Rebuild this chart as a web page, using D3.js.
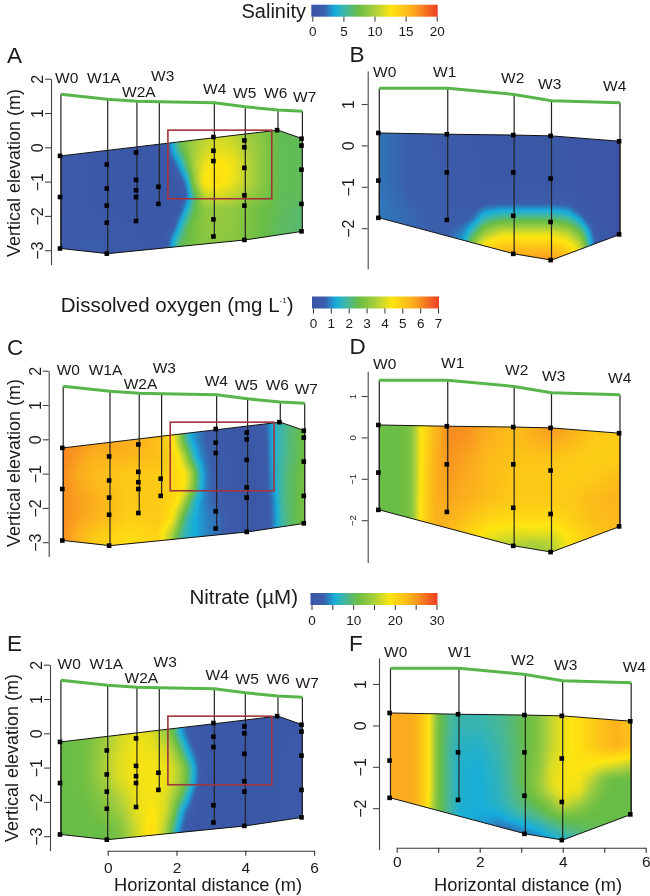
<!DOCTYPE html>
<html><head><meta charset="utf-8">
<script src="https://cdn.jsdelivr.net/npm/d3@7"></script>
<style>
html,body{margin:0;padding:0;background:#fff;overflow:hidden}
#wrap{position:relative;width:650px;height:896px}
canvas,svg{position:absolute;left:0;top:0}
text{font-family:"Liberation Sans",Arial,sans-serif;fill:#1a1a1a}
</style></head><body><div id="wrap"><canvas id="c" width="650" height="896"></canvas><svg id="s" width="650" height="896"></svg></div>
<script>
// ---------- colour key ----------
const keyStops=[0,.1,.19,.28,.37,.5,.63,.8,1];
const keyColors=["#3b53a4","#3b5eab","#16aedc","#47b79a","#69bd45","#a9cf3c","#ffe510","#fbac1e","#ee3d24"];

// ---------- transect 1 (panels A, C, E) ----------
const wellNames1=["W0","W1A","W2A","W3","W4","W5","W6","W7"];
const wellX1=[-1.36,0,0.85,1.5,3.1,4,4.95,5.66];
const surface1=[1.55,1.4,1.34,1.33,1.3,1.18,1.09,1.05];
const sensors1=[[-0.25,-1.45,-2.95],[-0.5,-1.2,-1.7,-2.2,-3.1],[-0.15,-0.95,-1.25,-1.45,-2.15],[-1.15,-1.65],[0.3,-0.1,-0.4,-2.1,-2.6],[0.2,0,-0.6,-1.4,-1.7,-2.7],[0.5],[0.25,0.05,-0.65,-1.65,-2.45]];
const topX1=[-1.36,4.95,5.66], topZ1=[-0.25,0.5,0.25];
const botX1=[5.66,4,0,-1.36], botZ1=[-2.45,-2.7,-3.1,-2.95];
const boxX=[1.75,4.77], boxZ=[0.5,-1.5];

// ---------- transect 2 (panels B, D, F) ----------
const wellNames2=["W0","W1","W2","W3","W4"];
const wellX2=[-0.15,1.5,3.1,4,5.65];
const surface2=[1.38,1.38,1.23,1.08,1.03];
const sensors2=[[0.3,-0.85,-1.75],[0.27,-0.65,-1.8],[0.25,-0.65,-1.7,-2.62],[0.23,-0.8,-1.85,-2.77],[0.1,-2.15]];
const topX2=[-0.15,1.5,3.1,4,5.65], topZ2=[0.3,0.27,0.25,0.23,0.1];
const botX2=[5.65,4,3.1,-0.15], botZ2=[-2.15,-2.77,-2.62,-1.75];

// ---------- measured fields ----------
const rows1=[0.5,0,-0.5,-1,-1.4,-1.8,-2.3,-2.8,-3.2];
const colsA=[-1.4,-.5,.5,1.4,1.7,1.9,2.1,2.3,2.5,2.8,3.2,3.6,4,4.5,5,5.7];
const salinityA=[
[1.2,1,.8,.8,1.2,4.5,7,8.5,9.5,10.5,11,10.5,9.5,8.5,7,7],
[1.2,1,.8,.8,1.2,4,7,8.5,9.8,10.8,11.6,11.4,10.2,8.8,7,7],
[1.2,1,.8,.8,.8,1.6,3.5,7,10,12,12.8,12.4,10.8,8.8,7,7],
[1.2,1,.8,.8,.8,.8,1.3,3,9,12.8,13.2,12.2,10.8,8.8,7,7],
[1.2,1,.8,.8,.8,.8,1,1.8,6,11,11.5,11,9.8,8.2,7,7],
[1.2,1,.8,.8,.8,.8,1.3,4,7,8.8,9.2,9,8.5,7.5,7,6.5],
[1.2,1.3,1.1,.8,.8,1.3,4,7,8,8.8,9.2,9,8.3,7.5,6.8,6.5],
[1.2,1.8,1.3,.8,1.3,4,7,7.5,8,8.5,8.8,8.8,8.2,7.2,6.8,6.5],
[1.2,1.8,1.3,.8,1.3,4,7,7.5,8,8.5,8.8,8.8,8.2,7.2,6.8,6.5]];
const colsC=[-1.4,-.5,.5,1.4,1.8,2,2.2,2.4,2.6,2.8,3.2,3.6,4,4.5,4.75,5,5.3,5.7];
const oxygenC=[
[6.1,5.9,5.6,5.2,4.6,3.5,1.8,1.2,.9,.7,.5,.4,.4,.7,1.4,1.9,2.3,2.7],
[6.1,5.8,5.6,5.2,4.6,3.5,1.9,1.2,.9,.7,.4,.3,.3,.5,1.4,1.9,2.3,2.7],
[6.1,5.5,5.4,5.2,4.8,4.4,3.4,1.8,1.1,.8,.5,.3,.3,.4,1.4,1.9,2.3,2.7],
[6,5.3,5,5,4.8,4.6,4.4,3.4,1.7,.9,.5,.3,.3,.4,1.3,2,2.4,2.8],
[6,5.4,5,5,4.8,4.6,4.3,3.2,1.6,.9,.5,.3,.3,.4,1.2,2,2.4,2.8],
[6,5.6,5,5,4.7,4.4,3.3,1.8,1.2,.9,.6,.4,.3,.4,.9,2,2.4,2.8],
[6,5.5,4.9,5,4.5,3.3,1.9,1.4,1.2,1,.8,.4,.3,.4,.9,1.9,2.4,2.8],
[6,5,4.6,4.8,3.5,2.2,1.6,1.4,1.2,1,.8,.4,.3,.4,.9,1.8,2.4,2.8],
[6,5,4.6,4.8,3.5,2.2,1.6,1.4,1.2,1,.8,.4,.3,.4,.9,1.8,2.4,2.8]];
const colsE=[-1.4,-.7,-.2,.3,.8,1.3,1.7,1.9,2.1,2.3,2.5,2.7,3,4,5,5.7];
const nitrateE=[
[11,11,12.5,15,17.5,17,14,11,6,3,1.5,1.5,1.2,1.2,1.5,1.5],
[11,11.5,13.5,16.5,18,17.5,14,11,6,3,1.5,1.5,1.2,1.2,1.5,1.5],
[11,11.5,14,17,18.5,18,17,15,11,6,3,1.5,1.2,1.2,1.5,1.5],
[11,11.5,14.5,17.5,18.5,18.5,18,17,15,11,6,2.2,1.2,1.2,1.5,1.8],
[11,11.5,14,17,18.5,18.5,18,16.5,15,11,5.5,2.2,1.2,1.2,1.5,1.8],
[11,11.3,13,15.5,18,18.5,17.5,15,12,7,3,1.7,1.2,1.2,1.5,1.8],
[11,11,12,14,17.5,19,17,13,6.5,3,1.7,1.2,1.2,1.2,1.5,1.8],
[11,11,11,12,16.5,20,15,9,4,2.2,1.5,1.2,1.2,1.2,1.5,1.8],
[11,11,11,12,16.5,20,15,9,4,2.2,1.5,1.2,1.2,1.2,1.5,1.8]];

const colsB=[-.2,.6,1.5,1.9,2.1,2.4,2.8,3.2,4,4.4,4.7,4.9,5.1,5.7];
const rowsB=[.5,-1,-1.4,-1.6,-1.8,-2.1,-2.4,-2.7,-3];
const salinityB=[
[2.5,2,1.3,1,1,.8,.8,.8,.8,.7,.6,.5,.5,.5],
[2.5,2,1.5,1.3,1.2,1,1,1,1,.8,.7,.6,.5,.5],
[2.6,2.1,1.6,1.4,1.3,1.6,1.8,1.8,1.8,1.6,.9,.7,.6,.5],
[2.6,2.2,1.7,1.6,1.7,3.4,4.2,4.2,4.2,3.6,1.5,.8,.6,.5],
[2.6,2.2,1.8,1.8,2.4,5.5,6.8,7,7,6,3.5,1.2,.7,.5],
[2.6,2.2,1.9,3,5.5,9.5,11.5,11.5,11.5,10.5,7.5,3.5,1,.5],
[2.6,2.2,2,4,9.5,13,14.2,14.2,14.2,13,11,5,1,.5],
[2.6,2.2,2,5,10,14,16,16.5,16.5,15,12,6,1,.5],
[2.6,2.2,2,5,10,14,16,16.5,16.5,15,12,6,1,.5]];
const colsD=[-.2,.3,.6,.85,1,1.2,1.5,2,2.5,3.1,3.6,4,4.4,5,5.7];
const rowsD=[.5,0,-.5,-1,-1.5,-2,-2.3,-2.6,-3];
const oxygenD=[
[2.6,2.6,2.8,4.4,4.8,5.4,6,6,5.6,5.3,5.7,6,5.8,5.2,4.9],
[2.6,2.6,2.8,4.4,4.8,5.4,6,5.9,5.5,5.2,5.5,5.7,5.5,5,4.9],
[2.6,2.6,2.8,4.4,4.9,5.5,5.9,5.7,5.3,5.1,5.1,5.1,5,4.9,4.9],
[2.6,2.6,2.8,4.4,5,5.5,5.8,5.6,5.3,5,5,5,4.9,5,5.3],
[2.6,2.6,2.8,4.5,5,5.5,5.7,5.5,5.2,5,5,5,5,5.3,5.5],
[2.6,2.6,2.8,4.5,5,5.5,5.5,5.1,4.7,4.6,4.6,4.6,4.8,5.2,5.4],
[2.6,2.6,2.8,4.5,5,5.5,5.3,4.8,4.3,4.1,4.2,4.1,4.5,5,5.3],
[2.6,2.6,2.8,4.5,5,5.5,5.2,4.6,3.9,3.6,3.4,3.6,4.4,5,5.3],
[2.6,2.6,2.8,4.5,5,5.5,5.2,4.6,3.9,3.6,3.4,3.6,4.4,5,5.3]];
const colsF=[-.2,.4,.7,.85,1,1.3,1.5,2,2.5,3,3.4,3.7,4,4.4,4.7,5,5.3,5.7];
const rowsF=[.5,0,-.5,-1,-1.3,-1.6,-1.9,-2.2,-2.5,-2.8];
const nitrateF=[
[24,24,21,17,11.5,8.5,7.8,7.8,8.5,10.5,12.5,16,18,19.5,20.5,21.5,22.5,20.5],
[24,24,20.5,17,11.5,8.5,7.5,7.5,8.5,10.5,12.5,16,18,19.5,21,22.5,23.5,21.5],
[24,24,20.5,17,11.5,8,6.8,6.5,8,10.5,12.5,16,18,19.5,21,22.5,23.5,22],
[24,24,20.5,17,11.5,8,6.3,5.9,7.5,10.5,13,17,18.5,19,18.5,17.5,16.5,15],
[24,24,20.5,17,11.5,8,6.3,5.8,7.3,10.5,13.5,17.5,18.5,18.5,16,12,11,11],
[24,24,20.5,17,11.5,8,6.3,5.8,7.2,10,13,16.5,18.5,18,14,11.5,11,11],
[24,24,20.5,16,11.5,8,6.3,5.8,6.8,9.5,11,13,17,14.5,12,11,11,11],
[24,24,20.5,16,11.5,8,6,5.5,5.5,7.5,9,10.5,11.5,11.5,11,11,11,11],
[24,24,20.5,16,11.5,8,6,4.5,3.2,4.5,6,7.5,9,10,10.5,11,11,11],
[24,24,20.5,16,11.5,8,6,4.5,2.2,2.5,3.5,5,6,8,10,11,11,11]];

// ---------- legends ----------
const legendTicksSal=[0,5,10,15,20], legendTicksDO=[0,1,2,3,4,5,6,7], legendTicksNO3=[0,5,10,15,20,25,30];

const svg=d3.select("#s"), ctx=document.getElementById("c").getContext("2d");
const colorT=d3.scaleLinear().domain(keyStops).range(keyColors).clamp(true);
const grad=svg.append("defs").append("linearGradient").attr("id","key");
keyStops.forEach((s,i)=>grad.append("stop").attr("offset",s).attr("stop-color",keyColors[i]));

function legend(o){
  const x=d3.scaleLinear().domain([0,o.max]).range([o.x0,o.x1]);
  svg.append("rect").attr("x",o.x0-1).attr("y",o.y).attr("width",o.x1-o.x0+2).attr("height",12).attr("fill","url(#key)");
  const a=svg.append("g").attr("transform",`translate(0,${o.y+12})`)
    .call(d3.axisBottom(x).tickValues(o.ticks).tickSize(5).tickSizeOuter(0).tickPadding(o.pad)
      .tickFormat(d=>o.labels.includes(d)?d:""));
  a.select(".domain").remove();
  a.selectAll("line").attr("stroke","#333");
  a.selectAll("text").attr("font-size",13.5).attr("font-family","Liberation Sans").attr("fill","#1a1a1a");
}
legend({x0:312.3,x1:436.7,y:4.7,max:20,ticks:legendTicksSal,labels:legendTicksSal,pad:5});
legend({x0:313,x1:438,y:296.5,max:7,ticks:legendTicksDO,labels:legendTicksDO,pad:5});
legend({x0:311.5,x1:436.5,y:593,max:30,ticks:legendTicksNO3,labels:[0,10,20,30],pad:5});
svg.append("text").attr("x",306).attr("y",18).attr("text-anchor","end").attr("font-size",20).text("Salinity");
const dot=svg.append("text").attr("x",293.5).attr("y",312).attr("text-anchor","end").attr("font-size",20.5);
dot.append("tspan").text("Dissolved oxygen (mg L");
dot.append("tspan").attr("font-size",8).attr("dy",-9).text("-1");
dot.append("tspan").attr("dy",9).text(")");
svg.append("text").attr("x",298).attr("y",604).attr("text-anchor","end").attr("font-size",20.5).text("Nitrate (µM)");

function valueAt(cols,rows,m,x,z){
  let i=Math.min(Math.max(d3.bisectLeft(cols,x),1),cols.length-1);
  const tx=Math.max(0,Math.min(1,(x-cols[i-1])/(cols[i]-cols[i-1])));
  let j=1; while(j<rows.length-1&&rows[j]>z)j++;
  const tz=Math.max(0,Math.min(1,(rows[j-1]-z)/(rows[j-1]-rows[j])));
  const a=m[j-1][i-1]*(1-tx)+m[j-1][i]*tx, b=m[j][i-1]*(1-tx)+m[j][i]*tx;
  return a*(1-tz)+b*tz;
}

function panel(p){
  const x=d3.scaleLinear().domain([0,6]).range([p.x0,p.x0+p.kx*6]);
  const y=d3.scaleLinear().domain([p.zTop,p.zBot]).range([p.yRef+(p.zRefV-p.zTop)*p.ky,p.yRef+(p.zRefV-p.zBot)*p.ky]);
  // field
  const poly=[...p.topX.map((v,i)=>[x(v),y(p.topZ[i])]),...p.botX.map((v,i)=>[x(v),y(p.botZ[i])])];
  const ext=[d3.extent(poly,d=>d[0]),d3.extent(poly,d=>d[1])];
  const L=Math.floor(ext[0][0])-4,T=Math.floor(ext[1][0])-4,W=Math.ceil(ext[0][1])-L+8,H=Math.ceil(ext[1][1])-T+8;
  const data=new Float64Array(W*H);
  for(let r=0;r<H;r++)for(let c=0;c<W;c++)data[r*W+c]=valueAt(p.cols,p.rows,p.field,x.invert(L+c+.5),y.invert(T+r+.5));
  if(d3.blur2)d3.blur2({data,width:W,height:H},1.6);
  const off=document.createElement("canvas");off.width=W;off.height=H;
  const oc=off.getContext("2d"),img=oc.createImageData(W,H);
  for(let k=0;k<W*H;k++){const col=d3.rgb(colorT(data[k]/p.max));img.data[4*k]=col.r;img.data[4*k+1]=col.g;img.data[4*k+2]=col.b;img.data[4*k+3]=255;}
  oc.putImageData(img,0,0);
  ctx.save();ctx.beginPath();poly.forEach((q,i)=>i?ctx.lineTo(q[0],q[1]):ctx.moveTo(q[0],q[1]));ctx.closePath();ctx.clip();ctx.drawImage(off,L,T);ctx.restore();
  const g=svg.append("g");
  g.append("path").attr("d","M"+poly.join("L")+"Z").attr("fill","none").attr("stroke","#111").attr("stroke-width",1);
  // wells
  p.wellX.forEach((wx,i)=>{
    const s=p.sensors[i];
    g.append("line").attr("x1",x(wx)).attr("x2",x(wx)).attr("y1",y(p.surface[i])).attr("y2",y(d3.min(s))).attr("stroke","#222").attr("stroke-width",1.2);
    g.selectAll(null).data(s).join("rect").attr("x",x(wx)-3.2).attr("y",d=>y(d)-2.3).attr("width",4.6).attr("height",4.6).attr("fill","#000");
  });
  // surface
  g.append("path").attr("d",d3.line().x(d=>x(d[0])).y(d=>y(d[1]))(p.wellX.map((v,i)=>[v,p.surface[i]])))
    .attr("fill","none").attr("stroke","#57b649").attr("stroke-width",3);
  if(p.box)g.append("rect").attr("x",x(boxX[0])).attr("y",y(boxZ[0])).attr("width",x(boxX[1])-x(boxX[0])).attr("height",y(boxZ[1])-y(boxZ[0])).attr("fill","none").attr("stroke","#a2343c").attr("stroke-width",1.6);
  // y axis
  const ya=g.append("g").attr("transform",`translate(${p.axisX},0)`)
    .call(d3.axisLeft(y).tickValues(p.yTicks).tickSize(6).tickSizeOuter(0).tickFormat(d3.format("d")));
  ya.selectAll("path,line").attr("stroke","#444").attr("stroke-width",1.1);
  ya.selectAll("text").attr("font-family","Liberation Sans").attr("fill","#1a1a1a").attr("font-size",p.tickFont)
    .attr("text-anchor","middle").attr("dy",0).attr("x",0).attr("y",0)
    .attr("transform",`translate(${p.tickTx-p.axisX},0) rotate(-90)`);
  if(p.yLabel)g.append("text").attr("transform",`translate(${p.yLabel[0]},${p.yLabel[1]}) rotate(-90)`).attr("text-anchor","middle").attr("font-size",18).text("Vertical elevation (m)");
  // x axis
  if(p.xAxis){
    const xa=g.append("g").attr("transform",`translate(0,${p.xAxis.y})`)
      .call(d3.axisBottom(x).tickValues(p.xAxis.ticks).tickSize(5).tickSizeOuter(0).tickPadding(p.xAxis.pad).tickFormat(d=>d%2===0?d:""));
    xa.selectAll("path,line").attr("stroke","#333").attr("stroke-width",1.1);
    xa.selectAll("text").attr("font-family","Liberation Sans").attr("fill","#1a1a1a").attr("font-size",15.5);
    g.append("text").attr("x",p.xAxis.tx).attr("y",p.xAxis.ty).attr("text-anchor","middle").attr("font-size",18.3).text("Horizontal distance (m)");
  }
  // well labels
  p.names.forEach((n,i)=>g.append("text").attr("x",p.lab[i][0]).attr("y",p.lab[i][1]).attr("font-size",15.5).text(n));
  g.append("text").attr("x",p.letter[0]).attr("y",p.letter[1]).attr("font-size",22.5).text(p.letter[2]);
}

const common1={names:wellNames1,wellX:wellX1,surface:surface1,sensors:sensors1,topX:topX1,topZ:topZ1,botX:botX1,botZ:botZ1,box:true,rows:rows1,yTicks:[2,1,0,-1,-2,-3],tickFont:16,kx:34.4,ky:34.3,zTop:2,zBot:-3.42,zRefV:2};
const common2={names:wellNames2,wellX:wellX2,surface:surface2,sensors:sensors2,topX:topX2,topZ:topZ2,botX:botX2,botZ:botZ2,kx:41.5,ky:41.4,yTicks:[1,0,-1,-2],tickFont:16,zRefV:1};
const lab1=[[55,83],[87,83],[122,96.7],[151,80.7],[203,94],[233,98],[264,98],[293,102]];
const shift=(a,dx,dy)=>a.map(d=>[d[0]+dx,d[1]+dy]);

panel({...common1,x0:107.7,yRef:78.7,axisX:51,tickTx:43,yLabel:[20,173],cols:colsA,field:salinityA,max:20,lab:lab1,letter:[7,62.5,"A"]});
panel({...common2,x0:385.5,yRef:104,zTop:1.8,zBot:-2.98,axisX:367.7,tickTx:354,cols:colsB,rows:rowsB,field:salinityB,max:20,
  lab:[[373,76.7],[433,76.7],[501,82.7],[538,89],[603,91.3]],letter:[349.5,61.7,"B"]});
panel({...common1,x0:110,yRef:370.7,axisX:48.7,tickTx:41,yLabel:[20,463],cols:colsC,field:oxygenC,max:7,lab:shift(lab1,1.7,292),letter:[7,355,"C"]});
panel({...common2,x0:385.5,yRef:396,zTop:1.6,zBot:-3.02,axisX:367.7,tickFont:9.5,tickTx:356,cols:colsD,rows:rowsD,field:oxygenD,max:7,
  lab:[[373,369],[441,368.3],[505,375],[542,381],[608,383]],letter:[349.5,354,"D"]});
panel({...common1,x0:107.7,yRef:664.7,axisX:50,tickTx:42,yLabel:[18,758],cols:colsE,field:nitrateE,max:30,lab:shift(lab1,2.5,586),letter:[7,651,"E"],
  xAxis:{y:850.7,ticks:[0,2,4,6],tx:208,ty:891,pad:6}});
panel({...common2,x0:396.7,yRef:684,zTop:1.63,zBot:-3,axisX:379,tickTx:366,cols:colsF,rows:rowsF,field:nitrateF,max:30,
  lab:[[384,657],[448,657],[511,664.7],[554,670],[622.7,671.7]],letter:[349,650.7,"F"],
  xAxis:{y:847.7,ticks:[0,1,2,3,4,5,6],tx:528,ty:891,pad:3}});
</script></body></html>
